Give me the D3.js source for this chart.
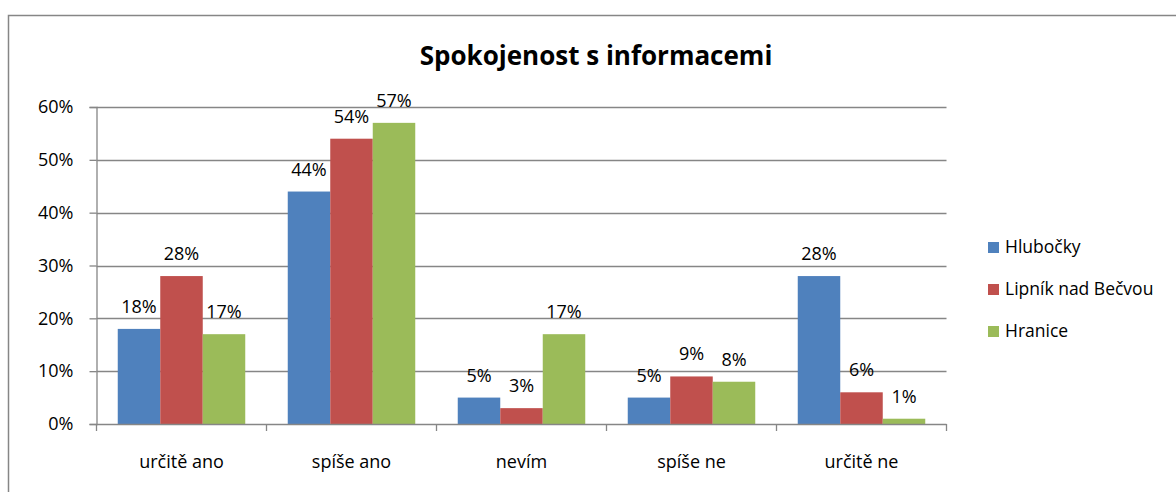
<!DOCTYPE html>
<html lang="cs">
<head>
<meta charset="UTF-8">
<title>Spokojenost s informacemi</title>
<script src="https://d3js.org/d3.v7.min.js"></script>
<style>
  body { margin: 0; background: #fff; }
  text { font-family: "Open Sans", Lato, sans-serif; fill: #000; }
</style>
</head>
<body>
<svg id="chart" width="1176" height="492"></svg>
<script>
// categories and series
const categories = ["určitě ano", "spíše ano", "nevím", "spíše ne", "určitě ne"];
const seriesNames = ["Hlubočky", "Lipník nad Bečvou", "Hranice"];
const hlubocky = [18, 44, 5, 5, 28];
const lipnik = [28, 54, 3, 9, 6];
const hranice = [17, 57, 17, 8, 1];
const yTicks = [0, 10, 20, 30, 40, 50, 60];

const seriesValues = [hlubocky, lipnik, hranice];
const colors = ["#4F81BD", "#C0504D", "#9BBB59"];

const svg = d3.select("#chart");
const grey = "#868686";
const font = "'Open Sans', sans-serif";

// outer frame of the chart
svg.append("path")
  .attr("d", "M8.5,492 V15.5 H1176")
  .attr("fill", "none").attr("stroke", grey).attr("stroke-width", 1.5);

const plotLeft = 96.5, plotRight = 946.5, plotTop = 107, plotBottom = 424;

const x0 = d3.scaleBand().domain(categories).range([plotLeft, plotRight]).paddingInner(0).paddingOuter(0);
const x1 = d3.scaleBand().domain(seriesNames).range([0, x0.bandwidth()]).paddingInner(0).paddingOuter(0.5);
const y = d3.scaleLinear().domain([0, 60]).range([plotBottom, plotTop]);

// gridlines
svg.append("g").selectAll("line").data(yTicks.filter(d => d > 0)).join("line")
  .attr("x1", plotLeft).attr("x2", plotRight)
  .attr("y1", d => Math.round(y(d)) + 0.5).attr("y2", d => Math.round(y(d)) + 0.5)
  .attr("stroke", grey).attr("stroke-width", 1.3);

// y axis
const yAxis = svg.append("g").attr("transform", `translate(${plotLeft},0)`)
  .call(d3.axisLeft(y).tickValues(yTicks).tickSize(7).tickPadding(16).tickFormat(d => d + "%"));
yAxis.select(".domain").attr("stroke", grey).attr("stroke-width", 1.3);
yAxis.selectAll(".tick line").attr("stroke", grey).attr("stroke-width", 1.3);
yAxis.selectAll(".tick text").style("font-size", "18px").style("font-family", font).attr("fill", "#000");

// bars
const groups = svg.append("g").selectAll("g").data(categories).join("g")
  .attr("transform", d => `translate(${x0(d)},0)`);

groups.selectAll("rect")
  .data((c, i) => seriesNames.map((s, j) => ({ s, v: seriesValues[j][i], c: colors[j] })))
  .join("rect")
  .attr("x", d => x1(d.s))
  .attr("width", x1.bandwidth())
  .attr("y", d => y(d.v))
  .attr("height", d => y(0) - y(d.v))
  .attr("fill", d => d.c);

// data labels
groups.selectAll("text.lbl")
  .data((c, i) => seriesNames.map((s, j) => ({ s, v: seriesValues[j][i] })))
  .join("text")
  .attr("class", "lbl")
  .attr("x", d => x1(d.s) + x1.bandwidth() / 2)
  .attr("y", d => y(d.v) - 16)
  .attr("text-anchor", "middle")
  .style("font-size", "18px")
  .text(d => d.v + "%");

// x axis
const xAxis = svg.append("g").attr("transform", `translate(0,${plotBottom})`)
  .call(d3.axisBottom(x0).tickSize(0).tickPadding(31));
xAxis.select(".domain").remove();
xAxis.selectAll(".tick text").style("font-size", "18px").style("font-family", font).attr("fill", "#000");
svg.append("g").selectAll("line").data(d3.range(categories.length + 1)).join("line")
  .attr("x1", i => plotLeft + i * x0.bandwidth()).attr("x2", i => plotLeft + i * x0.bandwidth())
  .attr("y1", plotBottom).attr("y2", plotBottom + 7)
  .attr("stroke", grey).attr("stroke-width", 1.3);
svg.append("line")
  .attr("x1", plotLeft).attr("x2", plotRight).attr("y1", plotBottom + 0.5).attr("y2", plotBottom + 0.5)
  .attr("stroke", grey).attr("stroke-width", 1.3);

// title
svg.append("text")
  .attr("x", 596).attr("y", 65)
  .attr("text-anchor", "middle")
  .style("font-size", "26px").style("font-weight", "bold")
  .text("Spokojenost s informacemi");

// legend
const legend = svg.append("g").selectAll("g").data(seriesNames).join("g")
  .attr("transform", (d, i) => `translate(988,${247 + i * 42})`);
legend.append("rect").attr("x", 0).attr("y", -5).attr("width", 11).attr("height", 11)
  .attr("fill", (d, i) => colors[i]);
legend.append("text").attr("x", 17).attr("y", 6)
  .style("font-size", "17.5px").text(d => d);
</script>
</body>
</html>
